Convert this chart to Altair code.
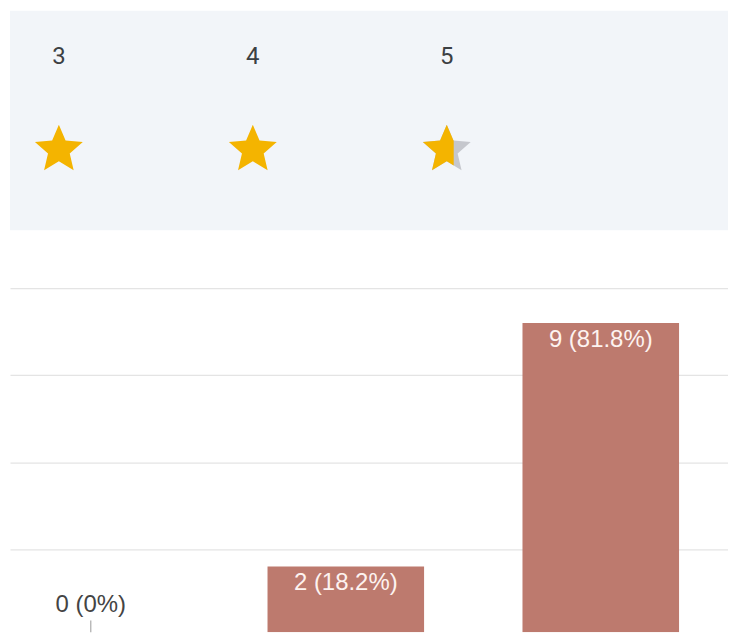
import altair as alt
import pandas as pd

# ---- data ----
ratings = [3, 4, 5]
counts = [0, 2, 9]
star_fill = [1.0, 1.0, 0.645]      # fraction of each header star that is gold
grid_values = [2.5, 5, 7.5, 10]

total = sum(counts)


def fmt_label(c):
    p = round(c / total * 100, 1)
    s = f"{p:.1f}".rstrip("0").rstrip(".")
    return f"{c} ({s}%)"


labels = [fmt_label(c) for c in counts]

# ---- star symbol (Material star outline, normalised to -1..1) ----
STAR = [(12, 17.27), (18.18, 21), (16.54, 13.97), (22, 9.24), (14.81, 8.63),
        (12, 2), (9.19, 8.63), (2, 9.24), (7.46, 13.97), (5.82, 21)]
STAR_N = [((x - 12) / 10, (y - 11.5) / 10) for x, y in STAR]


def _cross(a, b, xm):
    t = (xm - a[0]) / (b[0] - a[0])
    return (xm, a[1] + t * (b[1] - a[1]))


def clip_left(poly, xm):
    out = []
    for i in range(len(poly)):
        cur, prev = poly[i], poly[i - 1]
        cin, pin = cur[0] <= xm, prev[0] <= xm
        if cin:
            if not pin:
                out.append(_cross(prev, cur, xm))
            out.append(cur)
        elif pin:
            out.append(_cross(prev, cur, xm))
    return out


def to_path(poly):
    return "M" + " L".join(f"{x:.3f},{y:.3f}" for x, y in poly) + " Z"


full_path = to_path(STAR_N)
gold_paths = [to_path(clip_left(STAR_N, -1 + 2 * f)) for f in star_fill]

top_df = pd.DataFrame({
    "rating": ratings,
    "fill": star_fill,
    "gold_path": gold_paths,
    "full_path": [full_path] * len(ratings),
})

bars_df = pd.DataFrame({"rating": ratings, "count": counts, "label": labels})

# ---- top panel: rating numbers and stars ----
xt = alt.X("rating:Q", scale=alt.Scale(domain=[2.748, 6.450], nice=False, zero=False), axis=None)
yscale_top = alt.Scale(domain=[-0.912, 1.505], nice=False, zero=False)

nums = alt.Chart(top_df).mark_text(
    font="Roboto", fontSize=24, color="#3c4043", baseline="middle"
).encode(x=xt, y=alt.YDatum(1, type="quantitative", scale=yscale_top, axis=None), text="rating:N")

grey_star = alt.Chart(top_df).transform_filter("datum.fill < 1").mark_point(
    filled=True, size=2304, opacity=1, strokeWidth=0, color="#c5c7cd"
).encode(x=xt, y=alt.YDatum(0, type="quantitative", scale=yscale_top, axis=None),
         shape=alt.Shape("full_path:N", scale=None))

gold_star = alt.Chart(top_df).mark_point(
    filled=True, size=2304, opacity=1, strokeWidth=0, color="#f4b400"
).encode(x=xt, y=alt.YDatum(0, type="quantitative", scale=yscale_top, axis=None),
         shape=alt.Shape("gold_path:N", scale=None))

top = alt.layer(nums, grey_star, gold_star).properties(
    width=720, height=220,
    view=alt.ViewBackground(fill="#f2f5f9", strokeWidth=0),
)

# ---- bottom panel: bar chart ----
xb = alt.X("rating:Q", scale=alt.Scale(domain=[2.683, 5.499], nice=False, zero=False, padding=0),
           axis=None)
yb = alt.Y(
    "count:Q",
    stack=None,
    scale=alt.Scale(domain=[0.115, 11.375], nice=False, zero=False),
    axis=alt.Axis(values=grid_values, grid=True, labels=False, ticks=False, domain=False,
                  title=None, gridColor="#e4e4e4", gridWidth=1.2),
)

bars = alt.Chart(bars_df).mark_bar(width=157, color="#bd7a6e", clip=True).encode(x=xb, y=yb)

in_labels = alt.Chart(bars_df).transform_filter("datum.count > 0").mark_text(
    baseline="top", dy=5, color="#fdf3f0", fontSize=24, font="Liberation Sans"
).encode(x=xb, y=yb, text="label:N")

zero_labels = alt.Chart(bars_df).transform_filter("datum.count == 0").mark_text(
    baseline="alphabetic", dy=-24, color="#444444", fontSize=24, font="Liberation Sans"
).encode(x=xb, y=yb, text="label:N")

leader = alt.Chart(bars_df).transform_filter("datum.count == 0").transform_calculate(
    top="datum.count + 0.45"
).mark_rule(color="#999999", strokeWidth=1, clip=True).encode(
    x=xb, y=yb, y2=alt.Y2("top:Q")
)

bottom = alt.layer(bars, in_labels, zero_labels, leader).properties(
    width=720, height=393,
    view=alt.ViewBackground(fill="white", strokeWidth=0),
)

chart = alt.vconcat(top, bottom, spacing=10).properties(
    padding={"left": 2, "top": 2, "right": 0, "bottom": 0},
    background="white",
).configure_view(strokeWidth=0)

chart.save("out.html", embed_options={"renderer": "svg", "actions": False})
